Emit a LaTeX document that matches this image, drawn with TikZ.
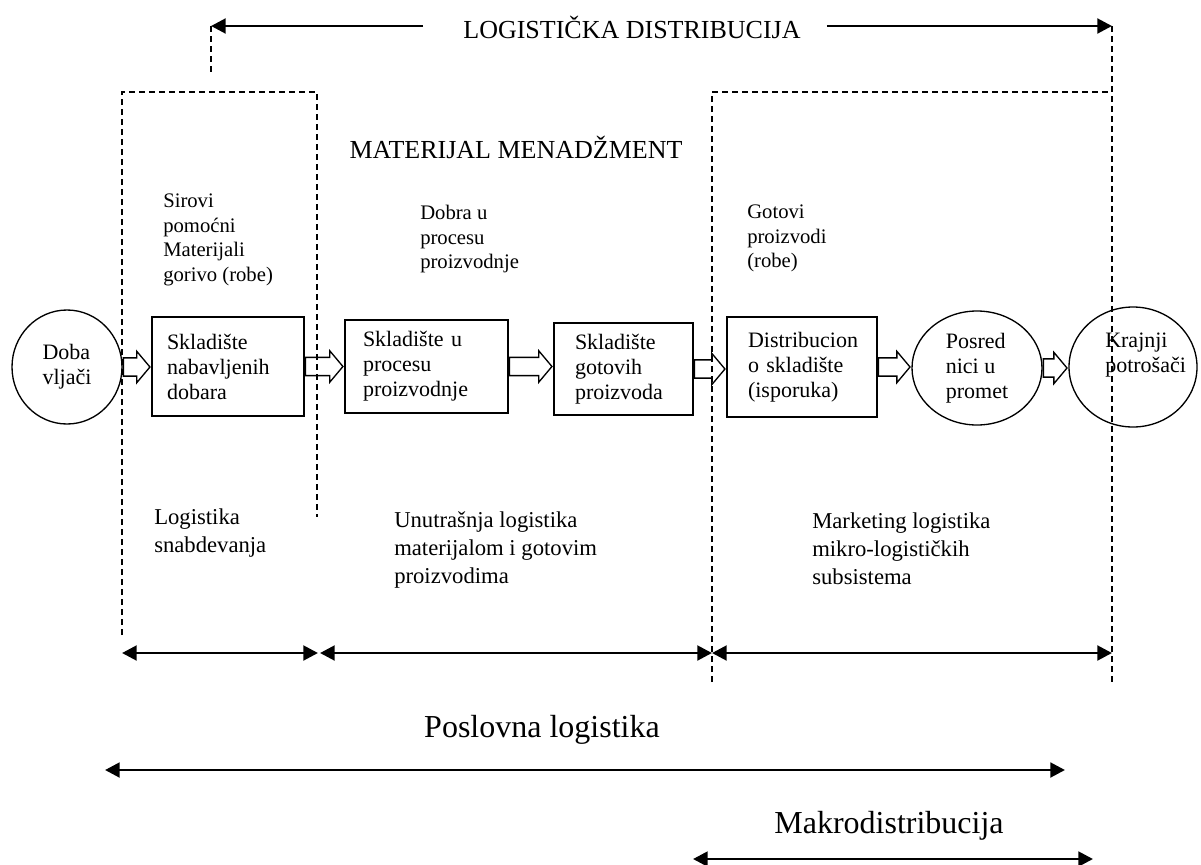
\documentclass[tikz,border=0pt]{standalone}
\usepackage{fontspec}
\setmainfont{Liberation Serif}
\usetikzlibrary{shapes.geometric,shapes.arrows,arrows.meta,calc}

\tikzset{
  tri/.tip={Triangle[length=11pt,width=11pt]},
  dashline/.style={line width=1.1pt, dash pattern=on 4.5pt off 3pt},
  stockbox/.style={draw, line width=1.1pt, align=left, inner ysep=0pt,
    font=\fontsize{16.5}{18.75}\selectfont,
    execute at begin node={\hyphenpenalty=10000\exhyphenpenalty=10000}},
  oval/.style={draw, ellipse, line width=1pt, align=left, inner sep=0pt,
    font=\fontsize{16.5}{18.75}\selectfont},
  blockarrow/.style={draw, single arrow, line width=1pt, inner xsep=0pt,
    inner ysep=6.35pt, single arrow head extend=4.9pt,
    single arrow tip angle=100},
  spanline/.style={line width=2.2pt, tri-tri},
  topline/.style={line width=2.2pt},
  uplabel/.style={anchor=north west, align=left, inner sep=0pt,
    font=\fontsize{15.5}{18.3}\selectfont},
  lowlabel/.style={anchor=north west, align=left, inner sep=0pt,
    font=\fontsize{17}{21}\selectfont},
  headline/.style={anchor=base, inner sep=0pt, font=\fontsize{19.5}{22}\selectfont},
  biglabel/.style={anchor=base, inner sep=0pt, font=\fontsize{24}{28}\selectfont},
}

\begin{document}
\begin{tikzpicture}[x=0.75pt, y=-0.75pt]
\useasboundingbox (0,0) rectangle (1201,864);

% headings
\node[headline] (title) at (632,38) {LOGISTIČKA DISTRIBUCIJA};
\node[headline] (matmen) at (516,158) {MATERIJAL MENADŽMENT};

% corner points of the dashed frames
\coordinate (tl) at (211,26);
\coordinate (tr) at (1112,26);
\coordinate (tlend) at (211,75);
\coordinate (la) at (122,635);
\coordinate (lb) at (122,92);
\coordinate (lc) at (317,92);
\coordinate (ld) at (317,517);
\coordinate (ra) at (712,682);
\coordinate (rb) at (712,92);
\coordinate (rc) at (1112,92);
\coordinate (rd) at (1112,685);

% logistics distribution span
\draw[topline, -tri, shorten <=30pt] (title.west |- tl) -- (tl);
\draw[topline, -tri, shorten <=19.5pt] (title.east |- tr) -- (tr);

% dashed frames
\draw[dashline] (tl) -- (tlend);
\draw[dashline] (la) -- (lb) -- (lc) -- (ld);
\draw[dashline] (ra) -- (rb) -- (rc);
\draw[dashline] (tr) -- (rd);

% stage descriptions
\node[uplabel] (sirovi) at (163,194) {Sirovi\\pomoćni\\Materijali\\gorivo (robe)};
\node[uplabel] (dobra) at (420,205) {Dobra u\\procesu\\proizvodnje};
\node[uplabel] (gotovi) at (747,205) {Gotovi\\proizvodi\\(robe)};

% flow of goods
\node[oval, minimum width=82.5pt, minimum height=85.5pt] (doba) at (67,367) {Doba\\vljači};
\node[stockbox, minimum width=114pt, minimum height=74.25pt, text width=91.5pt, inner xsep=11.25pt]
  (s1) at (228,366.5) {Skladište\\nabavljenih\\dobara};
\node[stockbox, minimum width=122.25pt, minimum height=69.75pt, text width=95.25pt, inner xsep=13.5pt]
  (s2) at (426.5,366.5) {Skladište u\\procesu\\proizvodnje};
\node[stockbox, minimum width=104.25pt, minimum height=69pt, text width=72.75pt, inner xsep=15.75pt]
  (s3) at (623.5,369) {Skladište\\gotovih\\proizvoda};
\node[stockbox, minimum width=112.5pt, minimum height=75pt, text width=81pt, inner xsep=15.75pt]
  (s4) at (802,367) {Distribucion\\o skladište\\(isporuka)};
\node[oval, minimum width=97.5pt, minimum height=85.5pt] (posred) at (977,368) {Posred\\nici u\\promet};
\node[oval, minimum width=96pt, minimum height=90pt] (krajnji) at (1133,367) {};
\node[uplabel, font=\fontsize{16.5}{18.75}\selectfont] (krajnjitext) at (1105,333) {Krajnji\\potrošači};

% hollow block arrows between the stages
\foreach \from/\to/\arrowname in {doba/s1/f1, s1/s2/f2, s2/s3/f3, s3/s4/f4, s4/posred/f5, posred/krajnji/f6}{
  \path let \p1=(\from.east), \p2=(\to.west) in
    node[blockarrow, minimum height={\x2-\x1-1.5pt}, anchor=tail] (\arrowname) at (\from.east) {};
}

% lower descriptions
\node[lowlabel] (snab) at (154,508) {Logistika\\snabdevanja};
\node[lowlabel] (unutr) at (394,511) {Unutrašnja logistika\\materijalom i gotovim\\proizvodima};
\node[lowlabel] (market) at (812,512) {Marketing logistika\\mikro-logističkih\\subsistema};

% spans of the three subsystems
\coordinate (p1) at (122,653);
\coordinate (p2) at (318,653);
\coordinate (p3) at (320,653);
\coordinate (p4) at (712,653);
\coordinate (p5) at (1112,653);
\draw[spanline] (p1) -- (p2);
\draw[spanline] (p3) -- (p4);
\draw[spanline] (p4) -- (p5);

% business logistics and macro distribution
\node[biglabel] (poslovna) at (542,737) {Poslovna logistika};
\coordinate (q1) at (105,770);
\coordinate (q2) at (1065,770);
\draw[spanline] (q1) -- (q2);

\node[biglabel] (makro) at (889,833) {Makrodistribucija};
\coordinate (m1) at (693,859);
\coordinate (m2) at (1093,859);
\draw[spanline] (m1) -- (m2);
\end{tikzpicture}
\end{document}
